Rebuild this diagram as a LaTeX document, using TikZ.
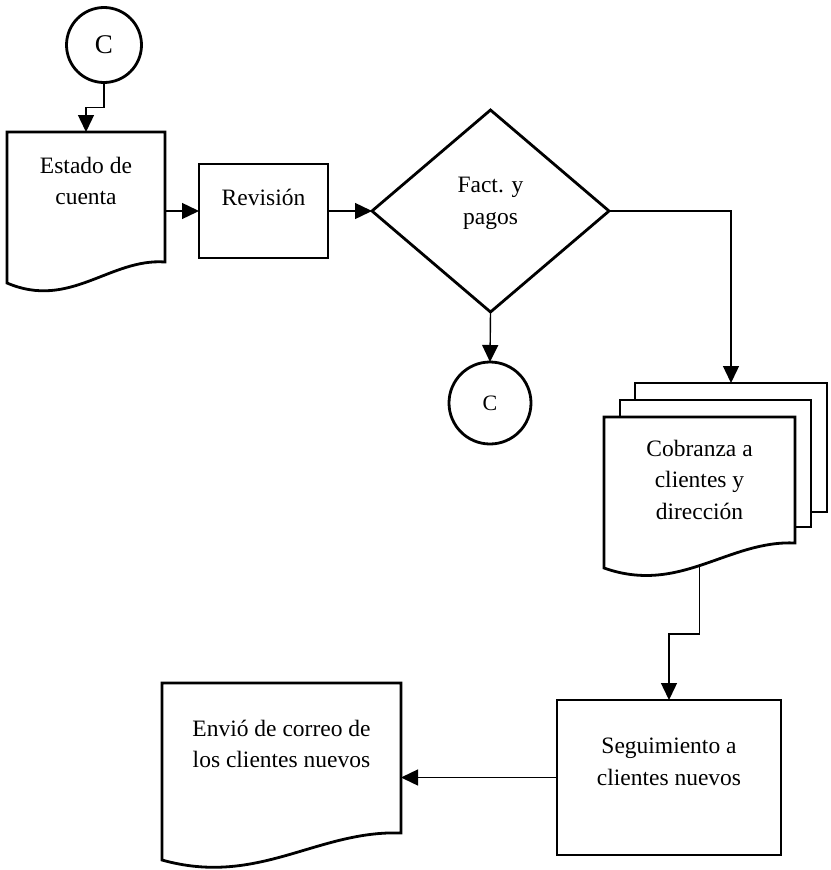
\documentclass[tikz,border=0pt]{standalone}
\usepackage{fontspec}
\setmainfont{Liberation Serif}
\usetikzlibrary{arrows.meta,shapes.geometric}
\tikzset{
  shp/.style={draw, line width=2.8pt, line join=miter},
  box/.style={shp, rectangle, inner sep=0pt, outer sep=0pt},
  body/.style={rectangle, inner sep=0pt, outer sep=0pt},
  circ/.style={shp, circle, inner sep=0pt, outer sep=0pt},
  conn/.style={line width=1.4pt, -{Triangle[length=17pt,width=16pt]}},
  txt/.style={align=center, font=\fontsize{23.5}{31.5}\selectfont, inner sep=0pt},
}
\begin{document}
\begin{tikzpicture}[x=1pt,y=-1pt]
\useasboundingbox (0,0) rectangle (830,870);
% --- top connector circle
\node[circ, minimum size=75pt, font=\fontsize{27}{30}\selectfont] (c1) at (104,45) {C};
% --- Estado de cuenta (document)
\node[body, minimum width=158pt, minimum height=150pt, anchor=north west] (est) at (7,132) {};
\draw[shp] (7,132) -- (165,132) -- (165,262) .. controls (110,258) and (70,310) .. (7,283) -- cycle;
\node[txt] (estT) at (86,181) {Estado de\\cuenta};
% --- Revision
\node[box, minimum width=129pt, minimum height=94pt] (rev) at (263.5,211) {};
\node[txt] (revT) at (263.5,197) {Revisión};
% --- decision
\node[shp, diamond, minimum width=237pt, minimum height=202pt, inner sep=0pt, outer sep=0pt] (dec) at (490.5,211) {};
\node[txt] (decT) at (490.5,203.5) {Fact. y\\pagos};
% --- bottom connector circle
\node[circ, minimum size=82pt, font=\fontsize{22}{26}\selectfont] (c2) at (490,403) {C};
% --- multi document
\node[body, minimum width=192pt, minimum height=129pt, anchor=north west] (back) at (635,383) {};
\draw[shp] (635,400) -- (635,383) -- (827,383) -- (827,512) -- (811,512);
\node[body, minimum width=191pt, minimum height=127pt, anchor=north west] (mid) at (620,400) {};
\draw[shp] (620,417) -- (620,400) -- (811,400) -- (811,527) -- (795,527);
\node[body, minimum width=191pt, minimum height=148pt, anchor=north west] (cob) at (604,417) {};
\draw[shp] (604,417) -- (795,417) -- (795,543) .. controls (728,540) and (680,595) .. (604,568) -- cycle;
\node[txt] (cobT) at (699.5,479.5) {Cobranza a\\clientes y\\dirección};
% --- Seguimiento
\node[box, minimum width=224pt, minimum height=155pt] (seg) at (669,777.5) {};
\node[txt] (segT) at (669,762) {Seguimiento a\\clientes nuevos};
% --- Envio (document)
\node[body, minimum width=239pt, minimum height=150pt, anchor=north west] (env) at (162,683) {};
\draw[shp] (162,683) -- (401,683) -- (401,833) .. controls (317,830) and (258,887) .. (162,860) -- cycle;
\node[txt] (envT) at (281.5,744) {Envió de correo de\\los clientes nuevos};
% --- connectors
\draw[conn] (c1.south) -- ++(0,25) -| (est.north);
\draw[conn] (est.east |- rev.west) -- (rev.west);
\draw[conn] (rev.east) -- (dec.west);
\draw[conn] (dec.south) -- (c2.north);
\draw[conn] (dec.east) -| (back.north);
\draw[conn] (cob.south) -- ++(0,69) -| (seg.north);
\draw[conn] (seg.west) -- (env.east |- seg.west);
\end{tikzpicture}
\end{document}
